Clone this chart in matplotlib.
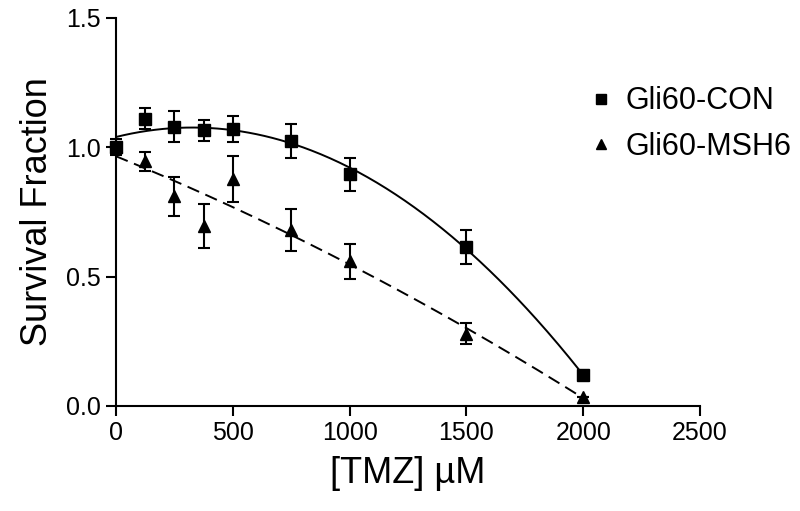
import numpy as np
import matplotlib
matplotlib.use('Agg')
import matplotlib.pyplot as plt

plt.rcParams['font.family'] = ['Liberation Sans', 'DejaVu Sans']

# dose of TMZ (uM)
dose = [0, 125, 250, 375, 500, 750, 1000, 1500, 2000]

# Gli60-CON survival fraction +/- error
con_mean = [1.00, 1.11, 1.08, 1.065, 1.07, 1.025, 0.895, 0.615, 0.12]
con_err = [0.03, 0.04, 0.06, 0.04, 0.05, 0.065, 0.065, 0.065, 0.0]

# Gli60-MSH6 survival fraction +/- error
msh6_mean = [1.00, 0.945, 0.81, 0.695, 0.877, 0.68, 0.56, 0.28, 0.035]
msh6_err = [0.0, 0.035, 0.075, 0.086, 0.09, 0.08, 0.068, 0.04, 0.0]

x_ticks = [0, 500, 1000, 1500, 2000, 2500]
y_ticks = [0.0, 0.5, 1.0, 1.5]

fig = plt.figure(figsize=(8, 5.11), dpi=100)
ax = fig.add_axes([0.145, 0.2055, 0.73, 0.7595])

# fitted curves (2nd order polynomial through the measured points)
xs = np.linspace(0, 2000, 300)
con_fit = np.polyval(np.polyfit(dose, con_mean, 2), xs)
msh6_fit = np.polyval(np.polyfit(dose, msh6_mean, 2), xs)
ax.plot(xs, con_fit, color='black', lw=1.4, zorder=2)
ax.plot(xs, msh6_fit, color='black', lw=1.4, linestyle=(0, (6.5, 3.5)), zorder=2)

ax.errorbar(dose, msh6_mean, yerr=msh6_err, fmt='^', color='black', ms=8,
            capsize=4.5, elinewidth=1.5, capthick=1.5, zorder=3, clip_on=False)
ax.errorbar(dose, con_mean, yerr=con_err, fmt='s', color='black', ms=8,
            capsize=4.5, elinewidth=1.5, capthick=1.5, zorder=4, clip_on=False)

ax.set_xlim(0, 2500)
ax.set_ylim(0, 1.5)
ax.set_xticks(x_ticks)
ax.set_yticks(y_ticks)
ax.set_yticklabels([f'{v:.1f}' for v in y_ticks])

for s in ['top', 'right']:
    ax.spines[s].set_visible(False)
for s in ['left', 'bottom']:
    ax.spines[s].set_linewidth(1.5)
ax.tick_params(direction='out', length=7, width=1.5, labelsize=18, pad=4)

ax.set_xlabel('[TMZ] \u00b5M', fontsize=26, labelpad=8)
ax.set_ylabel('Survival Fraction', fontsize=26, labelpad=8)

# legend
h1 = plt.Line2D([], [], marker='s', color='black', ls='none', ms=7)
h2 = plt.Line2D([], [], marker='^', color='black', ls='none', ms=7)
fig.legend([h1, h2], ['Gli60-CON', 'Gli60-MSH6'], loc='upper left',
           bbox_to_anchor=(0.705, 0.885), frameon=False, fontsize=22,
           handlelength=0.6, handletextpad=0.5, labelspacing=0.5)

fig.savefig('out.png', dpi=100)
